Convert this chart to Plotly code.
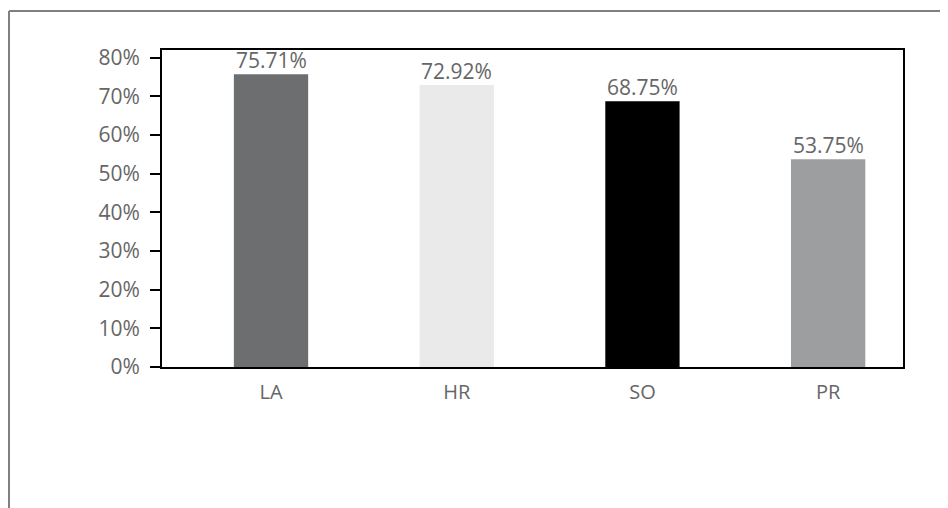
import plotly.graph_objects as go

categories = ["LA", "HR", "SO", "PR"]
values = [75.71, 72.92, 68.75, 53.75]
bar_colors = ["#6d6e70", "#e9eae9", "#000000", "#9d9e9f"]
y_ticks = [0, 10, 20, 30, 40, 50, 60, 70, 80]
y_tick_labels = [f"{t}%" for t in y_ticks]

# page body has an 8px margin, so figure is 940x500 placed at (8, 8)
W, H = 940, 500
ml, mr, mt, mb = 154, 45, 42, 141
pw, ph = W - ml - mr, H - mt - mb

xs = list(range(len(categories)))

fig = go.Figure(
    go.Bar(
        x=xs,
        y=values,
        width=0.4,
        marker=dict(color=bar_colors, line=dict(width=0)),
        cliponaxis=False,
        hoverinfo="skip",
    )
)

for xi, v in zip(xs, values):
    fig.add_annotation(
        x=xi, y=v, xref="x", yref="y",
        text=f"{v:.2f}%", showarrow=False,
        yanchor="bottom", yshift=-2,
        font=dict(family="Open Sans", size=21, color="#666666"),
    )

def px_x(x):
    return (x - ml) / pw

def px_y(y):
    return (H - mb - y) / ph

line_col = "#808080"
fig.add_shape(type="line", xref="paper", yref="paper",
              x0=px_x(1), x1=px_x(W + 2), y0=px_y(3), y1=px_y(3),
              line=dict(color=line_col, width=2))
fig.add_shape(type="line", xref="paper", yref="paper",
              x0=px_x(1), x1=px_x(1), y0=px_y(3), y1=px_y(H + 2),
              line=dict(color=line_col, width=2))

fig.update_layout(
    width=W, height=H,
    margin=dict(l=ml, r=mr, t=mt, b=mb, autoexpand=False),
    paper_bgcolor="white", plot_bgcolor="white",
    showlegend=False,
    font=dict(family="Open Sans", color="#666666"),
    xaxis=dict(
        range=[-0.587, 3.403],
        tickvals=xs,
        ticktext=categories,
        tickfont=dict(size=20, color="#666666"),
        showgrid=False, zeroline=False,
        showline=True, linecolor="black", linewidth=2, mirror=True,
        ticks="", ticklabelstandoff=6,
        fixedrange=True,
    ),
    yaxis=dict(
        range=[0, 82],
        tickvals=y_ticks,
        ticktext=y_tick_labels,
        tickfont=dict(size=21, color="#666666"),
        showgrid=False, zeroline=False,
        showline=True, linecolor="black", linewidth=2, mirror=True,
        ticks="outside", ticklen=10, tickwidth=2, tickcolor="black",
        ticklabelstandoff=6,
        fixedrange=True,
    ),
)

fig.write_html("out.html")
